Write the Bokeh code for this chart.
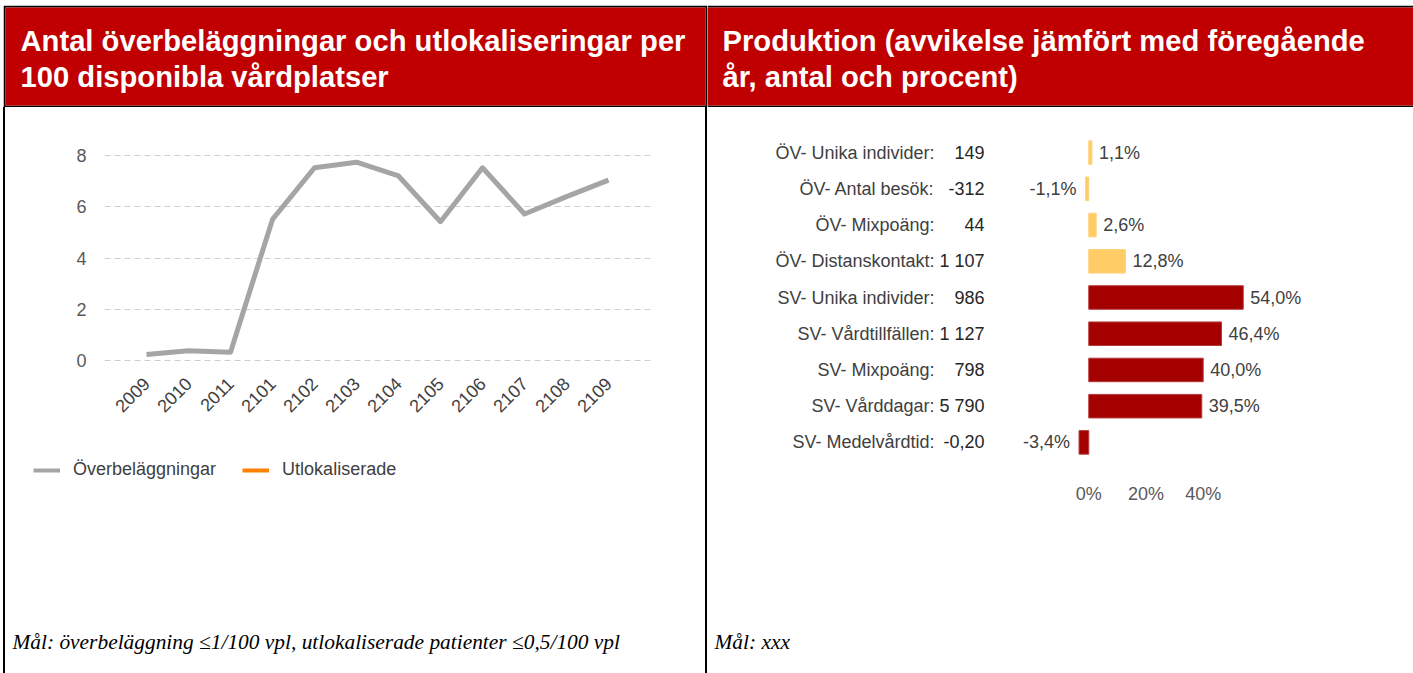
import math
from bokeh.plotting import figure
from bokeh.models import (Range1d, FactorRange, ColumnDataSource, Label, Legend, LegendItem,
                          CategoricalAxis, FixedTicker, PrintfTickFormatter, Spacer)
from bokeh.layouts import row, column
from bokeh.transform import factor_cmap
from bokeh.embed import file_html
from bokeh.resources import INLINE
from bokeh.core.properties import value

NaN = float("nan")

# ---------------- data ----------------
left_title = "Antal överbeläggningar och utlokaliseringar per\n100 disponibla vårdplatser"
right_title = "Produktion (avvikelse jämfört med föregående\når, antal och procent)"
left_note = "Mål: överbeläggning ≤1/100 vpl, utlokaliserade patienter ≤0,5/100 vpl"
right_note = "Mål: xxx"

periods = ["2009", "2010", "2011", "2101", "2102", "2103", "2104", "2105", "2106", "2107", "2108", "2109"]
overbelaggningar = [0.22, 0.37, 0.31, 5.51, 7.53, 7.75, 7.21, 5.42, 7.53, 5.72, 6.40, 7.05]
utlokaliserade = [NaN, NaN, NaN, NaN, NaN, NaN, NaN, NaN, NaN, NaN, NaN, NaN]  # no values shown
series_names = ["Överbeläggningar", "Utlokaliserade"]
y_ticks = [0, 2, 4, 6, 8]

measures = ["ÖV- Unika individer:", "ÖV- Antal besök:", "ÖV- Mixpoäng:", "ÖV- Distanskontakt:",
            "SV- Unika individer:", "SV- Vårdtillfällen:", "SV- Mixpoäng:", "SV- Vårddagar:",
            "SV- Medelvårdtid:"]
antal = ["149", "-312", "44", "1 107", "986", "1 127", "798", "5 790", "-0,20"]
procent = [1.1, -1.1, 2.6, 12.8, 54.0, 46.4, 40.0, 39.5, -3.4]
procent_labels = ["1,1%", "-1,1%", "2,6%", "12,8%", "54,0%", "46,4%", "40,0%", "39,5%", "-3,4%"]
groups = ["ÖV", "ÖV", "ÖV", "ÖV", "SV", "SV", "SV", "SV", "SV"]
x_ticks = [0, 20, 40]

# ---------------- style ----------------
RED = "#C00000"
SANS = "Liberation Sans"
SERIF = "Liberation Serif"
AXIS_TXT = "#595959"
GRAY_LINE = "#A5A5A5"
ORANGE_LINE = "#FF8000"


def chrome_fig(width, height, left=0, right=0, top=0, bottom=0, bg="white", border="white"):
    fw = width - left - right
    fh = height - top - bottom
    f = figure(width=width, height=height, x_range=Range1d(0, fw), y_range=Range1d(fh, 0),
               toolbar_location=None, output_backend="svg",
               x_axis_location=None, y_axis_location=None,
               min_border_left=left, min_border_right=right,
               min_border_top=top, min_border_bottom=bottom,
               background_fill_color=bg, border_fill_color=border, outline_line_color=None,
               frame_align=False)
    f.grid.visible = False
    return f


def header(width, text, left, right):
    h = chrome_fig(width, 102, left=left, right=right, top=2, bottom=2, bg=RED, border="black")
    h.add_layout(Label(x=15, y=17, text=text, text_font=SANS, text_font_style="bold",
                       text_font_size="29.2px", text_color="white", text_align="left",
                       text_baseline="top", text_line_height=1.15))
    return h


def footer(width, height, text, baseline_y):
    f = chrome_fig(width, height)
    f.add_layout(Label(x=7, y=baseline_y, text=text, text_font=SERIF, text_font_style="italic",
                       text_font_size="21.4px", text_color="black", text_align="left",
                       text_baseline="alphabetic"))
    return f


# ---------------- left chart ----------------
pL = figure(width=700, height=333,
            x_range=FactorRange(factors=periods, range_padding=0.5, range_padding_units="absolute"),
            y_range=Range1d(-0.05, 8.05),
            toolbar_location=None, output_backend="svg", frame_align=False,
            min_border_left=99, min_border_right=55, min_border_top=47, min_border_bottom=79,
            outline_line_color=None)
srcL = ColumnDataSource(dict(period=periods, value=overbelaggningar))
srcU = ColumnDataSource(dict(period=periods, value=utlokaliserade))
pL.line(x="period", y="value", source=srcL, line_color=GRAY_LINE, line_width=5, line_join="round")
pL.line(x="period", y="value", source=srcU, line_color=ORANGE_LINE, line_width=5)

yt = FixedTicker(ticks=y_ticks)
pL.yaxis.ticker = yt
pL.ygrid.ticker = yt
pL.xgrid.visible = False
pL.ygrid.grid_line_color = "#CFCFCF"
pL.ygrid.grid_line_dash = "6 4"
pL.ygrid.grid_line_width = 1
for ax in (pL.xaxis[0], pL.yaxis[0]):
    ax.axis_line_color = None
    ax.major_tick_line_color = None
    ax.minor_tick_line_color = None
    ax.major_label_text_font = SANS
    ax.major_label_text_font_size = "18px"
    ax.major_label_text_color = AXIS_TXT
pL.xaxis.major_label_text_color = "#404040"
pL.yaxis.major_label_standoff = 12
pL.xaxis.major_label_orientation = math.pi / 4
pL.xaxis.major_label_standoff = 13

# legend + note below the left chart (legend keys only, no data drawn)
footL = footer(700, 233, left_note, 201)
key1 = footL.line(x=[NaN], y=[NaN], line_color=GRAY_LINE, line_width=4)
key2 = footL.line(x=[NaN], y=[NaN], line_color=ORANGE_LINE, line_width=4)
legend = Legend(items=[LegendItem(label=series_names[0], renderers=[key1]),
                       LegendItem(label=series_names[1], renderers=[key2])],
                orientation="horizontal", location=(28, 193), padding=0, margin=0,
                spacing=26, label_standoff=13, glyph_width=27, glyph_height=16,
                label_text_font=SANS, label_text_font_size="18px", label_text_color="#404040",
                border_line_color=None, background_fill_alpha=0)
footL.add_layout(legend)

# ---------------- right chart ----------------
pR = figure(width=706, height=508,
            y_range=FactorRange(factors=measures[::-1]), x_range=Range1d(-34, 88),
            toolbar_location=None, output_backend="svg", y_axis_location=None, frame_align=False,
            min_border_left=284, min_border_right=73, min_border_top=27, min_border_bottom=155,
            outline_line_color=None)
pR.extra_y_ranges = {"antal": FactorRange(factors=antal[::-1])}

srcR = ColumnDataSource(dict(measure=measures, pct=procent, group=groups))
pR.hbar(y="measure", left=0, right="pct", height=0.65, source=srcR,
        fill_color=factor_cmap("group", palette=["#FFCC66", "#A50000"], factors=["ÖV", "SV"]),
        line_color=factor_cmap("group", palette=["#FFD27A", "#B53A3A"], factors=["ÖV", "SV"]),
        line_width=1)

pos = [i for i, v in enumerate(procent) if v >= 0]
neg = [i for i, v in enumerate(procent) if v < 0]
srcP = ColumnDataSource(dict(measure=[measures[i] for i in pos], pct=[procent[i] for i in pos],
                             lab=[procent_labels[i] for i in pos]))
srcN = ColumnDataSource(dict(measure=[measures[i] for i in neg], pct=[procent[i] for i in neg],
                             lab=[procent_labels[i] for i in neg]))
pR.text(x="pct", y="measure", text="lab", source=srcP, x_offset=7, text_align="left",
        text_baseline="middle", text_font=value(SANS), text_font_size="18px", text_color="#404040")
pR.text(x="pct", y="measure", text="lab", source=srcN, x_offset=-9, text_align="right",
        text_baseline="middle", text_font=value(SANS), text_font_size="18px", text_color="#404040")

ax_num = CategoricalAxis(y_range_name="antal")
ax_name = CategoricalAxis()
for ax, col, so in ((ax_num, "#262626", 1), (ax_name, "#404040", -4)):
    ax.axis_line_color = None
    ax.major_tick_line_color = None
    ax.minor_tick_line_color = None
    ax.major_label_text_font = SANS
    ax.major_label_text_font_size = "18px"
    ax.major_label_text_color = col
    ax.major_label_standoff = so
pR.add_layout(ax_num, "left")
pR.add_layout(ax_name, "left")

pR.xaxis.ticker = FixedTicker(ticks=x_ticks)
pR.xaxis.formatter = PrintfTickFormatter(format="%d%%")
pR.xaxis.axis_line_color = None
pR.xaxis.major_tick_line_color = None
pR.xaxis.minor_tick_line_color = None
pR.xaxis.major_label_text_font = SANS
pR.xaxis.major_label_text_font_size = "18px"
pR.xaxis.major_label_text_color = AXIS_TXT
pR.xaxis.major_label_standoff = 17
pR.grid.visible = False

footR = footer(706, 58, right_note, 26)

# ---------------- page layout ----------------
hdrL = header(704, left_title, 2, 2)
hdrR = header(706, right_title, 0, 0)


def vbar():
    return Spacer(width=2, height=566, styles={"background-color": "black"})


page = column(
    Spacer(width=1413, height=5),
    row(Spacer(width=3, height=102), hdrL, hdrR),
    row(Spacer(width=3, height=566), vbar(), column(pL, footL), vbar(), column(pR, footR)),
)

open("out.html", "w").write(file_html(page, INLINE))
